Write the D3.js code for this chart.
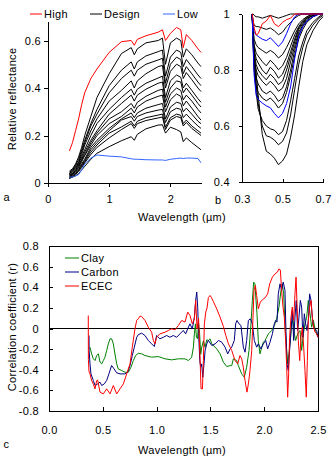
<!DOCTYPE html>
<html lang="en">
<head>
<meta charset="UTF-8">
<title>Reflectance spectra and correlation</title>
<style>
  body { margin: 0; background: #fff; }
  svg text { font-family: "Liberation Sans", Arial, sans-serif; font-size: 11px; letter-spacing: 0.3px; fill: #000; }
  .axis path, .axis line { fill: none; stroke: #000; shape-rendering: crispEdges; }
  .curve { fill: none; stroke-width: 1; }
</style>
</head>
<body>
<script src="https://cdn.jsdelivr.net/npm/d3@7"></script>
<script>
// ---- panel a : relative reflectance, 0.35-2.5 um
var waveA = [0.35, 0.4, 0.45, 0.5, 0.55, 0.6, 0.7, 0.8, 1.0, 1.2, 1.36, 1.41, 1.46, 1.6, 1.8, 1.87, 1.92, 2.0, 2.1, 2.17, 2.21, 2.26, 2.35, 2.45, 2.5]
var highA = [0.135, 0.17, 0.22, 0.27, 0.33, 0.38, 0.44, 0.48, 0.55, 0.595, 0.60, 0.58, 0.605, 0.62, 0.635, 0.645, 0.60, 0.63, 0.655, 0.645, 0.57, 0.625, 0.60, 0.565, 0.55]
var lowA = [0.025, 0.025, 0.03, 0.035, 0.055, 0.08, 0.105, 0.118, 0.113, 0.11, 0.102, 0.10, 0.10, 0.098, 0.097, 0.097, 0.095, 0.10, 0.103, 0.105, 0.103, 0.105, 0.105, 0.103, 0.085]
var designA = [
  [0.05, 0.06, 0.08, 0.11, 0.15, 0.20, 0.28, 0.36, 0.46, 0.545, 0.57, 0.54, 0.565, 0.59, 0.60, 0.61, 0.50, 0.59, 0.61, 0.60, 0.53, 0.565, 0.54, 0.505, 0.49],
  [0.045, 0.055, 0.075, 0.10, 0.14, 0.18, 0.25, 0.31, 0.41, 0.475, 0.51, 0.48, 0.51, 0.535, 0.553, 0.56, 0.45, 0.53, 0.56, 0.55, 0.49, 0.52, 0.49, 0.455, 0.44],
  [0.04, 0.05, 0.07, 0.09, 0.13, 0.17, 0.24, 0.29, 0.38, 0.44, 0.475, 0.45, 0.475, 0.50, 0.518, 0.525, 0.42, 0.50, 0.53, 0.52, 0.46, 0.49, 0.46, 0.425, 0.41],
  [0.04, 0.05, 0.065, 0.085, 0.12, 0.16, 0.22, 0.27, 0.345, 0.39, 0.43, 0.40, 0.43, 0.46, 0.49, 0.495, 0.40, 0.47, 0.50, 0.49, 0.44, 0.465, 0.435, 0.40, 0.385],
  [0.035, 0.045, 0.06, 0.08, 0.11, 0.14, 0.20, 0.25, 0.31, 0.36, 0.395, 0.37, 0.395, 0.42, 0.442, 0.45, 0.36, 0.43, 0.455, 0.445, 0.40, 0.42, 0.39, 0.355, 0.34],
  [0.035, 0.04, 0.055, 0.075, 0.10, 0.13, 0.18, 0.22, 0.29, 0.335, 0.37, 0.345, 0.37, 0.395, 0.42, 0.425, 0.34, 0.40, 0.43, 0.425, 0.38, 0.40, 0.37, 0.335, 0.32],
  [0.03, 0.04, 0.05, 0.07, 0.095, 0.12, 0.17, 0.21, 0.27, 0.30, 0.335, 0.315, 0.34, 0.365, 0.39, 0.395, 0.32, 0.375, 0.40, 0.39, 0.35, 0.37, 0.345, 0.31, 0.295],
  [0.03, 0.035, 0.05, 0.065, 0.09, 0.115, 0.16, 0.20, 0.25, 0.28, 0.315, 0.295, 0.32, 0.345, 0.365, 0.37, 0.30, 0.35, 0.375, 0.365, 0.325, 0.345, 0.315, 0.28, 0.265],
  [0.025, 0.035, 0.045, 0.06, 0.08, 0.10, 0.15, 0.18, 0.23, 0.27, 0.295, 0.275, 0.295, 0.315, 0.33, 0.335, 0.27, 0.32, 0.34, 0.335, 0.30, 0.315, 0.29, 0.26, 0.25],
  [0.025, 0.03, 0.04, 0.055, 0.075, 0.095, 0.14, 0.17, 0.22, 0.265, 0.28, 0.26, 0.28, 0.295, 0.307, 0.31, 0.255, 0.30, 0.315, 0.31, 0.275, 0.29, 0.265, 0.24, 0.23],
  [0.02, 0.03, 0.04, 0.05, 0.07, 0.09, 0.13, 0.16, 0.21, 0.236, 0.26, 0.24, 0.26, 0.275, 0.286, 0.29, 0.235, 0.275, 0.29, 0.285, 0.25, 0.265, 0.24, 0.22, 0.21],
  [0.02, 0.025, 0.035, 0.05, 0.065, 0.085, 0.12, 0.15, 0.19, 0.225, 0.25, 0.23, 0.25, 0.263, 0.274, 0.278, 0.225, 0.265, 0.28, 0.275, 0.24, 0.255, 0.23, 0.21, 0.20],
  [0.02, 0.025, 0.03, 0.04, 0.055, 0.07, 0.10, 0.125, 0.153, 0.178, 0.195, 0.18, 0.205, 0.228, 0.244, 0.245, 0.21, 0.235, 0.225, 0.215, 0.174, 0.19, 0.17, 0.15, 0.14]
]

// ---- panel b : continuum removed, 0.35-0.7 um
var waveB = [0.35, 0.355, 0.36, 0.37, 0.38, 0.40, 0.42, 0.44, 0.46, 0.48, 0.50, 0.52, 0.54, 0.56, 0.58, 0.60, 0.62, 0.65, 0.68, 0.70]
var highB = [1.0, 0.98, 0.95, 0.925, 0.93, 0.965, 0.975, 0.995, 0.965, 0.955, 0.97, 0.98, 0.985, 1.0, 1.0, 1.0, 1.0, 1.0, 1.0, 1.0]
var lowB = [
  [1.0, 0.88, 0.78, 0.71, 0.695, 0.682, 0.672, 0.665, 0.645, 0.629, 0.645, 0.68, 0.74, 0.84, 0.92, 0.955, 0.975, 0.99, 1.0, 1.0],
  [1.0, 0.96, 0.935, 0.925, 0.92, 0.91, 0.905, 0.915, 0.90, 0.884, 0.90, 0.93, 0.965, 0.99, 1.0, 1.0, 1.0, 1.0, 1.0, 1.0]
]
var designB = [
  [1.0, 0.93, 0.86, 0.79, 0.71, 0.57, 0.51, 0.50, 0.485, 0.462, 0.475, 0.50, 0.56, 0.64, 0.74, 0.83, 0.89, 0.94, 0.975, 0.99],
  [1.0, 0.92, 0.84, 0.75, 0.68, 0.60, 0.565, 0.56, 0.55, 0.533, 0.545, 0.575, 0.64, 0.73, 0.82, 0.88, 0.925, 0.96, 0.985, 0.995],
  [1.0, 0.90, 0.81, 0.72, 0.66, 0.62, 0.60, 0.59, 0.585, 0.569, 0.58, 0.62, 0.69, 0.77, 0.85, 0.90, 0.94, 0.97, 0.99, 1.0],
  [1.0, 0.89, 0.80, 0.74, 0.72, 0.70, 0.69, 0.70, 0.685, 0.664, 0.68, 0.72, 0.78, 0.85, 0.91, 0.945, 0.97, 0.99, 1.0, 1.0],
  [1.0, 0.90, 0.82, 0.77, 0.75, 0.725, 0.715, 0.725, 0.71, 0.688, 0.70, 0.74, 0.80, 0.87, 0.925, 0.955, 0.975, 0.99, 1.0, 1.0],
  [1.0, 0.91, 0.84, 0.80, 0.78, 0.76, 0.745, 0.76, 0.745, 0.724, 0.735, 0.77, 0.83, 0.885, 0.935, 0.96, 0.98, 0.995, 1.0, 1.0],
  [1.0, 0.92, 0.86, 0.82, 0.80, 0.78, 0.765, 0.785, 0.77, 0.748, 0.76, 0.80, 0.85, 0.90, 0.945, 0.965, 0.985, 0.995, 1.0, 1.0],
  [1.0, 0.93, 0.875, 0.84, 0.825, 0.80, 0.785, 0.81, 0.795, 0.771, 0.785, 0.82, 0.865, 0.91, 0.95, 0.97, 0.985, 0.995, 1.0, 1.0],
  [1.0, 0.94, 0.89, 0.86, 0.85, 0.83, 0.815, 0.835, 0.82, 0.801, 0.815, 0.845, 0.885, 0.925, 0.955, 0.975, 0.99, 1.0, 1.0, 1.0],
  [1.0, 0.95, 0.91, 0.89, 0.88, 0.87, 0.86, 0.87, 0.86, 0.843, 0.855, 0.88, 0.91, 0.94, 0.965, 0.98, 0.99, 1.0, 1.0, 1.0],
  [1.0, 0.975, 0.96, 0.955, 0.955, 0.95, 0.945, 0.95, 0.94, 0.926, 0.935, 0.955, 0.97, 0.985, 0.995, 1.0, 1.0, 1.0, 1.0, 1.0],
  [1.0, 1.0, 0.995, 0.99, 0.99, 0.985, 0.99, 0.995, 0.99, 0.985, 0.99, 0.995, 1.0, 1.0, 1.0, 1.0, 1.0, 1.0, 1.0, 1.0]
]

// ---- panel c : correlation coefficient, [wavelength, r]
var clay = [[0.381, -0.181], [0.396, -0.246], [0.412, -0.294], [0.428, -0.311], [0.443, -0.262], [0.459, -0.246], [0.474, -0.327], [0.49, -0.343], [0.505, -0.311], [0.52, -0.278], [0.536, -0.214], [0.551, -0.149], [0.567, -0.10], [0.582, -0.10], [0.598, -0.149], [0.613, -0.246], [0.629, -0.343], [0.644, -0.392], [0.675, -0.408], [0.706, -0.424], [0.737, -0.424], [0.762, -0.375], [0.784, -0.311], [0.805, -0.262], [0.83, -0.24], [0.861, -0.246], [0.892, -0.262], [0.954, -0.278], [1.016, -0.272], [1.078, -0.294], [1.14, -0.304], [1.202, -0.294], [1.264, -0.294], [1.295, -0.311], [1.326, -0.278], [1.342, -0.181], [1.351, -0.052], [1.361, 0.045], [1.37, -0.085], [1.38, -0.10], [1.39, 0.05], [1.40, -0.05], [1.41, -0.25], [1.42, -0.18], [1.435, -0.12], [1.45, -0.181], [1.466, -0.11], [1.481, -0.116], [1.497, -0.10], [1.513, -0.149], [1.559, -0.198], [1.59, -0.246], [1.621, -0.327], [1.652, -0.369], [1.683, -0.36], [1.698, -0.36], [1.713, -0.294], [1.744, -0.311], [1.76, -0.36], [1.791, -0.44], [1.815, -0.473], [1.837, -0.375], [1.859, -0.213], [1.877, 0.045], [1.89, 0.272], [1.902, 0.45], [1.914, 0.433], [1.924, 0.272], [1.933, 0.143], [1.945, -0.116], [1.961, -0.246], [1.977, -0.181], [1.992, -0.133], [2.008, -0.116], [2.023, -0.085], [2.039, -0.052], [2.07, -0.019], [2.094, 0.029], [2.116, 0.094], [2.137, 0.207], [2.156, 0.369], [2.168, 0.433], [2.181, 0.336], [2.193, 0.045], [2.209, -0.213], [2.218, -0.343], [2.23, -0.246], [2.243, -0.116], [2.255, 0.045], [2.268, 0.078], [2.28, -0.052], [2.292, -0.116], [2.311, -0.052], [2.333, -0.019], [2.348, -0.213], [2.364, -0.052], [2.379, 0.045], [2.395, 0.11], [2.41, 0.272], [2.426, 0.143], [2.441, 0.013], [2.457, 0.078], [2.472, -0.003], [2.488, -0.052], [2.5, -0.085]]
var carbon = [[0.372, -0.068], [0.373, -0.213], [0.381, -0.343], [0.39, -0.44], [0.412, -0.504], [0.428, -0.553], [0.452, -0.537], [0.474, -0.52], [0.49, -0.553], [0.514, -0.537], [0.536, -0.504], [0.557, -0.44], [0.582, -0.359], [0.604, -0.391], [0.629, -0.43], [0.66, -0.44], [0.706, -0.44], [0.731, -0.424], [0.753, -0.359], [0.774, -0.262], [0.793, -0.181], [0.815, -0.085], [0.83, -0.06], [0.861, -0.045], [0.892, -0.068], [0.923, -0.116], [0.954, -0.149], [0.979, -0.175], [1.0, -0.068], [1.031, -0.1], [1.062, -0.085], [1.094, -0.068], [1.124, -0.085], [1.155, -0.068], [1.186, -0.085], [1.217, -0.052], [1.248, -0.019], [1.27, -0.052], [1.289, -0.003], [1.31, 0.045], [1.332, -0.003], [1.351, 0.11], [1.363, 0.272], [1.373, 0.353], [1.382, 0.207], [1.391, -0.052], [1.401, -0.311], [1.41, -0.375], [1.419, -0.343], [1.429, -0.473], [1.438, -0.375], [1.451, -0.213], [1.466, -0.149], [1.481, -0.116], [1.513, -0.165], [1.544, -0.149], [1.575, -0.116], [1.606, -0.133], [1.636, -0.181], [1.661, -0.246], [1.683, -0.198], [1.698, -0.181], [1.722, -0.116], [1.735, 0.045], [1.747, 0.078], [1.766, 0.045], [1.784, 0.029], [1.806, -0.181], [1.822, -0.23], [1.837, -0.116], [1.853, 0.078], [1.871, 0.094], [1.89, 0.045], [1.908, -0.116], [1.93, -0.181], [1.945, -0.149], [1.97, -0.198], [1.992, -0.149], [2.014, -0.116], [2.032, -0.198], [2.054, -0.133], [2.076, -0.052], [2.094, 0.045], [2.107, 0.078], [2.119, 0.062], [2.131, 0.336], [2.147, 0.433], [2.162, 0.369], [2.177, 0.45], [2.193, 0.369], [2.202, -0.019], [2.212, -0.343], [2.224, -0.408], [2.236, -0.213], [2.249, -0.019], [2.261, 0.175], [2.274, -0.116], [2.286, 0.11], [2.298, 0.272], [2.311, -0.019], [2.323, 0.11], [2.336, 0.272], [2.348, 0.207], [2.36, -0.085], [2.373, 0.143], [2.385, 0.045], [2.398, -0.019], [2.41, 0.078], [2.422, 0.336], [2.435, 0.272], [2.447, 0.11], [2.46, 0.013], [2.472, -0.003], [2.488, -0.019], [2.5, -0.085]]
var ecec = [[0.365, 0.126], [0.366, -0.30], [0.372, -0.42], [0.381, -0.44], [0.395, -0.50], [0.412, -0.54], [0.428, -0.585], [0.443, -0.505], [0.452, -0.50], [0.474, -0.617], [0.505, -0.634], [0.536, -0.585], [0.567, -0.634], [0.598, -0.553], [0.629, -0.634], [0.66, -0.585], [0.691, -0.537], [0.722, -0.44], [0.753, -0.343], [0.774, -0.181], [0.799, -0.003], [0.815, 0.078], [0.83, 0.094], [0.846, 0.12], [0.861, 0.117], [0.892, 0.078], [0.923, 0.013], [0.954, -0.036], [0.97, -0.116], [0.985, -0.149], [1.0, -0.085], [1.031, -0.052], [1.078, -0.036], [1.109, -0.019], [1.14, -0.003], [1.171, -0.013], [1.202, 0.029], [1.233, 0.078], [1.264, 0.062], [1.289, 0.159], [1.31, 0.127], [1.332, 0.045], [1.351, 0.094], [1.363, 0.272], [1.376, -0.003], [1.39, 0.10], [1.404, -0.286], [1.413, -0.585], [1.426, -0.585], [1.435, -0.311], [1.444, 0.045], [1.457, 0.159], [1.469, 0.20], [1.481, 0.30], [1.497, 0.32], [1.51, 0.30], [1.528, 0.26], [1.559, 0.19], [1.59, 0.11], [1.621, 0.02], [1.643, -0.068], [1.668, -0.149], [1.698, -0.213], [1.729, -0.311], [1.754, -0.343], [1.775, -0.262], [1.791, -0.294], [1.806, -0.375], [1.822, -0.504], [1.84, -0.617], [1.853, -0.537], [1.868, -0.408], [1.884, -0.213], [1.896, 0.11], [1.905, 0.369], [1.918, 0.417], [1.93, 0.32], [1.945, 0.191], [1.964, 0.256], [1.983, 0.278], [2.008, 0.297], [2.032, 0.336], [2.051, 0.433], [2.076, 0.498], [2.1, 0.53], [2.122, 0.546], [2.137, 0.578], [2.15, 0.568], [2.162, 0.369], [2.175, 0.207], [2.187, 0.11], [2.199, -0.116], [2.209, -0.375], [2.218, -0.666], [2.227, -0.44], [2.236, -0.085], [2.249, 0.11], [2.261, 0.207], [2.274, 0.078], [2.286, 0.336], [2.296, 0.498], [2.305, 0.24], [2.317, -0.116], [2.33, -0.311], [2.342, -0.085], [2.354, 0.013], [2.367, -0.181], [2.379, -0.408], [2.391, -0.666], [2.401, -0.311], [2.41, 0.078], [2.422, 0.207], [2.435, 0.272], [2.447, 0.11], [2.46, 0.013], [2.472, -0.036], [2.488, -0.052], [2.5, -0.085]]

// tick labels
var ticksAx = [0, 1, 2], ticksAy = [0, 0.2, 0.4, 0.6]
var ticksBx = [0.3, 0.5, 0.7], ticksBy = [0.4, 0.6, 0.8, 1]
var ticksCx = [0, 0.5, 1, 1.5, 2, 2.5], ticksCy = [-0.8, -0.6, -0.4, -0.2, 0, 0.2, 0.4, 0.6, 0.8]

var width = 335, height = 467
var svg = d3.select('body').append('svg')
    .attr('width', width)
    .attr('height', height)

function fmt1(d) { return d === 0 ? '0' : d.toFixed(1) }
function fmtLoose(d) { return d === 0 || d === 1 ? String(d) : d.toFixed(1) }

// ===== panel a
var xA = d3.scaleLinear().domain([0, 2.5]).range([48, 201])
var yA = d3.scaleLinear().domain([0, 0.68]).range([183, 21.5])
var lineA = d3.line().x(function (d, i) { return xA(waveA[i]) }).y(function (d) { return yA(d) })

svg.append('g').attr('class', 'axis')
    .attr('transform', 'translate(0,183)')
    .call(d3.axisBottom(xA).tickValues(ticksAx).tickSizeInner(4).tickSizeOuter(0).tickPadding(8).tickFormat(d3.format('d')))
svg.append('g').attr('class', 'axis')
    .attr('transform', 'translate(48,0)')
    .call(d3.axisLeft(yA).tickValues(ticksAy).tickSizeInner(4).tickSizeOuter(0).tickPadding(3).tickFormat(fmt1))

svg.selectAll('.designA').data(designA).enter().append('path')
    .attr('class', 'curve designA').attr('stroke', '#000').attr('d', lineA)
svg.append('path').attr('class', 'curve').attr('stroke', '#3366ff').attr('d', lineA(lowA))
svg.append('path').attr('class', 'curve').attr('stroke', '#ff0000').attr('d', lineA(highA))

svg.append('text').attr('transform', 'translate(16,99) rotate(-90)')
    .attr('text-anchor', 'middle').text('Relative reflectance')

// legend
var legA = [['High', '#ff0000', 30], ['Design', '#000', 90], ['Low', '#3366ff', 163]]
legA.forEach(function (l) {
    svg.append('line').attr('x1', l[2]).attr('x2', l[2] + 12).attr('y1', 14).attr('y2', 14)
        .attr('stroke', l[1]).attr('stroke-width', 1)
    svg.append('text').attr('x', l[2] + 14).attr('y', 18).text(l[0])
})

// ===== panel b
var xB = d3.scaleLinear().domain([0.3, 0.7]).range([242, 323])
var yB = d3.scaleLinear().domain([0.4, 1]).range([182, 14])
var lineB = d3.line().x(function (d, i) { return xB(waveB[i]) }).y(function (d) { return yB(d) })

svg.append('g').attr('class', 'axis')
    .attr('transform', 'translate(0,182)')
    .call(d3.axisBottom(xB).tickValues(ticksBx).tickSizeInner(-3).tickSizeOuter(0).tickPadding(13).tickFormat(fmtLoose))
svg.append('g').attr('class', 'axis')
    .attr('transform', 'translate(242,0)')
    .call(d3.axisLeft(yB).tickValues(ticksBy).tickSizeInner(3).tickSizeOuter(0).tickPadding(9).tickFormat(fmtLoose))

svg.selectAll('.designB').data(designB).enter().append('path')
    .attr('class', 'curve designB').attr('stroke', '#000').attr('d', lineB)
svg.selectAll('.lowB').data(lowB).enter().append('path')
    .attr('class', 'curve lowB').attr('stroke', '#0000ff').attr('d', lineB)
svg.append('path').attr('class', 'curve').attr('stroke', '#ff0000').attr('d', lineB(highB))

svg.append('text').attr('x', 3.5).attr('y', 201).text('a')
svg.append('text').attr('x', 215).attr('y', 204).text('b')
svg.append('text').attr('x', 182).attr('y', 221).attr('text-anchor', 'middle').text('Wavelength (µm)')

// ===== panel c
var xC = d3.scaleLinear().domain([0, 2.5]).range([49, 318])
var yC = d3.scaleLinear().domain([-0.8, 0.8]).range([411, 246])
var lineC = d3.line().x(function (d) { return xC(d[0]) }).y(function (d) { return yC(d[1]) })

svg.append('rect').attr('x', xC(0)).attr('y', yC(0.8))
    .attr('width', xC(2.5) - xC(0)).attr('height', yC(-0.8) - yC(0.8))
    .attr('fill', 'none').attr('stroke', '#000').attr('shape-rendering', 'crispEdges')
svg.append('g').attr('class', 'axis')
    .attr('transform', 'translate(0,411)')
    .call(d3.axisBottom(xC).tickValues(ticksCx).tickSizeInner(-4).tickSizeOuter(0).tickPadding(15).tickFormat(function (d) { return d.toFixed(1) }))
svg.append('g').attr('class', 'axis')
    .attr('transform', 'translate(49,0)')
    .call(d3.axisLeft(yC).tickValues(ticksCy).tickSizeInner(-4).tickSizeOuter(0).tickPadding(10).tickFormat(fmt1))

svg.append('line').attr('x1', xC(0)).attr('x2', xC(2.5)).attr('y1', yC(0)).attr('y2', yC(0))
    .attr('stroke', '#000').attr('stroke-width', 1.2)

var seriesC = [[clay, '#008000'], [carbon, '#000080'], [ecec, '#ff0000']]
seriesC.forEach(function (s) {
    svg.append('path').attr('class', 'curve').attr('stroke', s[1]).attr('d', lineC(s[0]))
})

var legC = [['Clay', '#008000', 258], ['Carbon', '#000080', 272], ['ECEC', '#ff0000', 286]]
legC.forEach(function (l) {
    svg.append('line').attr('x1', 65).attr('x2', 79).attr('y1', l[2]).attr('y2', l[2])
        .attr('stroke', l[1]).attr('stroke-width', 1)
    svg.append('text').attr('x', 81).attr('y', l[2] + 4).text(l[0])
})

svg.append('text').attr('transform', 'translate(15.5,327) rotate(-90)')
    .attr('text-anchor', 'middle').text('Correlation coefficient (r)')
svg.append('text').attr('x', 3.5).attr('y', 448).text('c')
svg.append('text').attr('x', 182).attr('y', 454).attr('text-anchor', 'middle').text('Wavelength (µm)')
</script>
</body>
</html>
